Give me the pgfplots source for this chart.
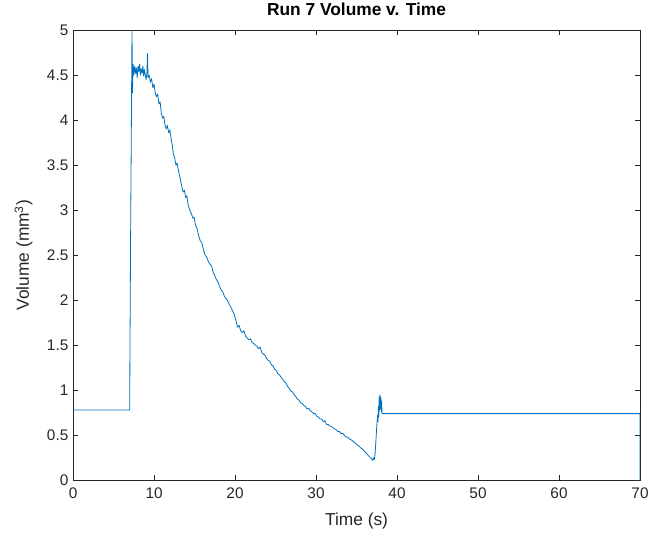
\documentclass[border=0pt]{standalone}
\usepackage{pgfplots}
\pgfplotsset{compat=1.18}
\usepackage{fontspec}
\setmainfont{Liberation Sans}
\definecolor{mblue}{rgb}{0,0.447,0.741}
\definecolor{axgray}{rgb}{0.15,0.15,0.15}
\begin{document}
\begin{tikzpicture}
\begin{axis}[
    width=425pt, height=337.5pt, scale only axis,
    xmin=0, xmax=70, ymin=0, ymax=5,
    xtick={0,10,...,70},
    ytick={0,0.5,...,5},
    yticklabels={0,0.5,1,1.5,2,2.5,3,3.5,4,4.5,5},
    tick pos=both, tick align=inside,
    major tick length=4pt,
    axis line style={axgray},
    tick style={axgray},
    ticklabel style={font=\fontsize{11.5}{13}\selectfont, text=axgray},
    xticklabel style={yshift=-2pt},
    /pgf/number format/assume math mode=true,
    xlabel={Time (s)}, ylabel={Volume (mm\textsuperscript{3})},
    label style={font=\fontsize{13}{15}\selectfont, text=axgray},
    title={\textbf{Run 7 Volume v. Time}},
    title style={font=\fontsize{13}{15}\selectfont, yshift=1pt},
    xlabel style={yshift=-4pt},
    ylabel style={yshift=4pt},
]
\addplot[mblue, line width=0.6pt, line join=round] coordinates {
(0,0.78) (7.0,0.78) (7.02,1.3) (7.1,2.6) (7.28,5.0) (7.34,4.3)
(7.42,4.62) (7.52,4.5) (7.62,4.6) (7.72,4.52) (7.82,4.58) (7.92,4.47)
(8.02,4.6) (8.12,4.54) (8.22,4.62) (8.32,4.5) (8.42,4.57) (8.52,4.52)
(8.62,4.6) (8.72,4.49) (8.82,4.56) (8.92,4.5) (9.02,4.45) (9.12,4.52)
(9.2,4.74) (9.26,4.47) (9.4,4.5) (9.55,4.42) (9.7,4.46) (9.85,4.36)
(10.0,4.4) (10.15,4.3) (10.3,4.26) (10.45,4.29) (10.6,4.18) (10.75,4.2)
(10.9,4.08) (11.05,4.02) (11.2,4.04) (11.35,3.95) (11.5,3.9) (11.65,3.94)
(11.8,3.86) (11.95,3.89) (12.1,3.8) (12.25,3.72) (12.4,3.62) (12.55,3.58)
(12.7,3.5) (12.85,3.52) (13.0,3.45) (13.15,3.38) (13.3,3.32) (13.45,3.25)
(13.6,3.2) (13.75,3.22) (13.9,3.14) (14.05,3.16) (14.2,3.06) (14.35,3.02)
(14.5,2.98) (14.65,2.95) (14.8,2.91) (14.95,2.92) (15.1,2.84) (15.3,2.8)
(15.5,2.72) (15.7,2.66) (15.9,2.64) (16.1,2.56) (16.3,2.5) (16.5,2.48)
(16.7,2.43) (16.9,2.4) (17.1,2.38) (17.3,2.31) (17.5,2.27) (17.7,2.23)
(17.9,2.2) (18.1,2.15) (18.3,2.11) (18.5,2.09) (18.7,2.04) (18.9,2.02)
(19.1,1.99) (19.3,1.95) (19.5,1.92) (19.7,1.88) (19.9,1.84) (20.1,1.78)
(20.3,1.7) (20.5,1.72) (20.7,1.66) (20.9,1.64) (21.1,1.66) (21.3,1.6)
(21.5,1.58) (21.7,1.56) (21.9,1.57) (22.1,1.53) (22.3,1.52) (22.5,1.5)
(22.7,1.49) (22.9,1.46) (23.1,1.48) (23.3,1.42) (23.5,1.4) (23.7,1.39)
(23.9,1.35) (24.1,1.33) (24.3,1.32) (24.5,1.28) (24.7,1.27) (24.9,1.23)
(25.1,1.22) (25.3,1.18) (25.5,1.17) (25.7,1.14) (25.9,1.12) (26.1,1.09)
(26.3,1.08) (26.5,1.04) (26.7,1.02) (26.9,0.99) (27.1,0.98) (27.3,0.95)
(27.5,0.93) (27.7,0.9) (27.9,0.89) (28.1,0.86) (28.3,0.85) (28.5,0.83)
(28.7,0.82) (28.9,0.79) (29.1,0.8) (29.3,0.77) (29.5,0.76) (29.7,0.74)
(29.9,0.74) (30.1,0.71) (30.3,0.7) (30.5,0.68) (30.7,0.68) (30.9,0.65)
(31.1,0.66) (31.3,0.62) (31.5,0.62) (31.7,0.6) (31.9,0.6) (32.1,0.58)
(32.3,0.57) (32.5,0.56) (32.7,0.54) (32.9,0.54) (33.1,0.52) (33.3,0.52)
(33.5,0.5) (33.7,0.48) (33.9,0.48) (34.1,0.46) (34.3,0.45) (34.5,0.44)
(34.7,0.42) (34.9,0.41) (35.1,0.39) (35.3,0.38) (35.5,0.36) (35.7,0.35)
(35.9,0.33) (36.1,0.31) (36.3,0.29) (36.5,0.27) (36.7,0.25) (36.85,0.24)
(37.0,0.22) (37.1,0.25) (37.2,0.23) (37.3,0.3) (37.4,0.45) (37.5,0.6)
(37.6,0.72) (37.65,0.65) (37.7,0.82) (37.75,0.7) (37.8,0.93) (37.85,0.78)
(37.9,0.95) (37.95,0.8) (38.0,0.92) (38.05,0.76) (38.1,0.88) (38.15,0.74)
(70,0.74) (70,0)
};
\end{axis}
\pgfresetboundingbox
\path ([xshift=-54.75pt,yshift=-41.25pt]current axis.south west)
  rectangle ([xshift=7.5pt,yshift=22.5pt]current axis.north east);
\end{tikzpicture}
\end{document}
